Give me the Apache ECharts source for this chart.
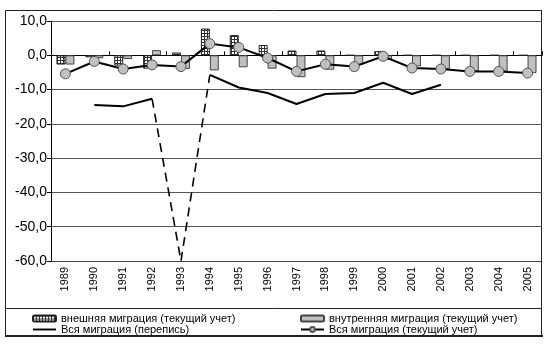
<!DOCTYPE html>
<html>
<head>
<meta charset="utf-8">
<script src="https://cdn.jsdelivr.net/npm/echarts@6/dist/echarts.min.js"></script>
<style>
html,body{margin:0;padding:0;background:#fff;}
#c{width:550px;height:347px;}
</style>
</head>
<body>
<div id="c"></div>
<script>
const categories = ['1989','1990','1991','1992','1993','1994','1995','1996','1997','1998','1999','2000','2001','2002','2003','2004','2005'];
const externalMigration = [-2.7,-0.6,-3.0,-3.9,0.8,7.8,5.9,3.0,1.4,1.4,0,1.2,0,0,0,0,0];
const internalMigration = [-2.7,-0.9,-1.1,1.5,-4.0,-4.4,-3.5,-3.9,-6.4,-4.2,-2.8,-1.3,-3.2,-4.0,-4.7,-4.7,-5.2];
const censusMigration = [null,-14.5,-14.9,-12.7,null,-5.7,-9.4,-11.0,-14.2,-11.3,-11.0,-8.0,-11.3,-8.6,null,null,null];
const censusGap = [null,null,null,-12.7,-60,-5.7,null,null,null,null,null,null,null,null,null,null,null];
const currentMigration = [-5.4,-1.8,-4.0,-2.8,-3.3,3.4,2.3,-0.8,-4.7,-2.6,-3.3,-0.3,-3.7,-4.0,-4.7,-4.7,-5.2];
const yTicks = {min:-60, max:10, interval:10};
const names = ['внешняя миграция (текущий учет)','внутренняя миграция (текущий учет)','Вся миграция (перепись)','Вся миграция (текущий учет)'];

const pc = document.createElement('canvas'); pc.width = 3; pc.height = 3;
const g = pc.getContext('2d');
g.fillStyle = '#fff'; g.fillRect(0,0,3,3);
g.fillStyle = '#333'; g.fillRect(0,0,3,1); g.fillRect(0,0,1,3);
const hatch = {image: pc, repeat: 'repeat'};

const FONT = 'Liberation Sans, Arial, sans-serif';
const chart = echarts.init(document.getElementById('c'), null, {renderer:'canvas'});
chart.setOption({
  animation:false,
  backgroundColor:'#fff',
  grid:{left:51, right:8, top:21, bottom:86, containLabel:false},
  xAxis:[{
    type:'category', data:categories,
    axisLine:{onZero:false, show:true, lineStyle:{color:'#444'}},
    axisTick:{show:false},
    axisLabel:{rotate:90, fontSize:11, fontFamily:FONT, color:'#000', margin:6}
  },{
    type:'category', data:categories,
    axisLine:{onZero:true, show:true, lineStyle:{color:'#000'}},
    axisTick:{show:true, length:4, lineStyle:{color:'#000'}},
    axisLabel:{show:false}
  }],
  yAxis:{
    type:'value', min:yTicks.min, max:yTicks.max, interval:yTicks.interval,
    axisLine:{show:true, lineStyle:{color:'#000'}},
    axisTick:{show:true, length:4, lineStyle:{color:'#000'}},
    axisLabel:{fontSize:14, fontFamily:FONT, color:'#000', margin:4,
      formatter:v=>v.toFixed(1).replace('.',',')},
    splitLine:{show:true, lineStyle:{color:'#555', width:1}}
  },
  legend:[{
    data:[names[0],{name:names[2], icon:'path://M0,0L24,0L24,2L0,2Z'}], orient:'vertical', left:32, top:313, padding:0,
    itemWidth:23, itemHeight:6, itemGap:0,
    textStyle:{fontSize:11, fontFamily:FONT, color:'#000', lineHeight:9}
  },{
    data:[names[1],names[3]], orient:'vertical', left:300, top:313, padding:0,
    itemWidth:23, itemHeight:6, itemGap:0,
    textStyle:{fontSize:11, fontFamily:FONT, color:'#000', lineHeight:9}
  }],
  graphic:[
    {type:'rect', shape:{x:5.5,y:10.5,width:536,height:325}, style:{fill:'none', stroke:'#222', lineWidth:1}, silent:true},
    {type:'line', shape:{x1:5,y1:308.5,x2:542,y2:308.5}, style:{stroke:'#222', lineWidth:1}, silent:true},
    {type:'line', shape:{x1:5,y1:336,x2:543,y2:336}, style:{stroke:'#222', lineWidth:2}, silent:true},
    {type:'line', shape:{x1:541.5,y1:10,x2:541.5,y2:337}, style:{stroke:'#222', lineWidth:1}, silent:true}
  ],
  series:[{
    name:names[0], type:'bar', data:externalMigration, barGap:0, barCategoryGap:'38%',
    itemStyle:{color:hatch, borderColor:'#222', borderWidth:1}, z:2
  },{
    name:names[1], type:'bar', data:internalMigration, barGap:0, barCategoryGap:'38%',
    itemStyle:{color:'#c0c0c0', borderColor:'#444', borderWidth:1}, z:2
  },{
    name:names[2], type:'line', data:censusMigration, connectNulls:false, showSymbol:false, symbol:'none',
    lineStyle:{color:'#000', width:2}, itemStyle:{color:'#000'}, z:3
  },{
    name:'gap', type:'line', data:censusGap, connectNulls:false, showSymbol:false, symbol:'none',
    lineStyle:{color:'#000', width:1.6, type:[9,6]}, z:3
  },{
    name:names[3], type:'line', data:currentMigration, symbol:'circle', symbolSize:10,
    lineStyle:{color:'#000', width:2},
    itemStyle:{color:'#c0c0c0', borderColor:'#555', borderWidth:1}, z:4
  }]
});
</script>
</body>
</html>
